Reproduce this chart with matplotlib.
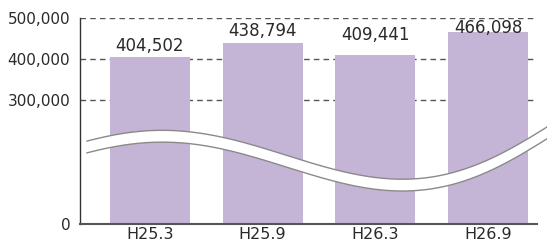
import numpy as np
import matplotlib
matplotlib.use("Agg")
import matplotlib.pyplot as plt
from matplotlib.ticker import FuncFormatter
from matplotlib.lines import Line2D

# ---- data ----
categories = ["H25.3", "H25.9", "H26.3", "H26.9"]
values = [404502, 438794, 409441, 466098]
y_ticks = [0, 300000, 400000, 500000]
grid_values = [300000, 400000, 500000]

# ---- layout / style ----
W, H = 547, 244
DPI = 100
bar_color = "#c4b5d6"
text_color = "#2a2a2a"
label_offsets_pt = [7.9, 8.9, 14.5, 2.3]  # label centre above bar top

plt.rcParams["font.family"] = ["DejaVu Sans"]

fig = plt.figure(figsize=(W / DPI, H / DPI), dpi=DPI)
ax = fig.add_axes([80 / W, 20.2 / H, (537 - 80) / W, (223.8 - 17.7) / H])

x = np.arange(len(categories))
ax.bar(x, values, width=0.71, color=bar_color, zorder=2)

for gv in grid_values:
    ax.axhline(gv, color="#555555", lw=1.0, dashes=(4, 3), zorder=1)

for xi, v, off in zip(x, values, label_offsets_pt):
    ax.annotate(f"{v:,}", (xi, v), xytext=(0, off), textcoords="offset points",
                ha="center", va="center", fontsize=12, color=text_color, zorder=5)

ax.set_xlim(-0.621, 3.435)
ax.set_ylim(0, 500000)
ax.set_xticks(x)
ax.set_xticklabels(categories, fontsize=11.5, color=text_color)
ax.set_yticks(y_ticks)
ax.yaxis.set_major_formatter(FuncFormatter(lambda v, p: f"{int(v):,}"))
ax.tick_params(axis="y", length=0, pad=7, labelsize=11, labelcolor=text_color)
ax.tick_params(axis="x", length=0, pad=2.5)

for s in ["top", "right"]:
    ax.spines[s].set_visible(False)
ax.spines["left"].set_color("#333333")
ax.spines["left"].set_linewidth(1.0)
ax.spines["bottom"].set_color("#555555")
ax.spines["bottom"].set_linewidth(1.5)

# ---- decorative wavy break band (figure pixel coordinates) ----
px = np.array([87, 160, 230, 300, 380, 447, 480, 513, 547], dtype=float)
py = np.array([141, 130.7, 138.3, 160, 178.3, 173.3, 163.3, 148, 126.7])
xn = (px - 300) / 250
coef = np.polyfit(xn, py, 5)
xs = np.linspace(87, 548, 400)
ys_up = np.polyval(coef, (xs - 300) / 250)
ys_lo = ys_up + 11.8

fx = xs / W
fy_up = 1 - ys_up / H
fy_lo = 1 - ys_lo / H
poly_x = np.concatenate([fx, fx[::-1]])
poly_y = np.concatenate([fy_up, fy_lo[::-1]])
fig.patches.append(plt.Polygon(np.column_stack([poly_x, poly_y]), closed=True,
                               facecolor="white", edgecolor="none",
                               transform=fig.transFigure, zorder=10))
fig.lines.append(Line2D(fx, fy_up, color="#8a8a8a", lw=1.0, transform=fig.transFigure, zorder=11))
fig.lines.append(Line2D(fx, fy_lo, color="#8a8a8a", lw=1.0, transform=fig.transFigure, zorder=11))

fig.savefig("out.png", dpi=DPI)
